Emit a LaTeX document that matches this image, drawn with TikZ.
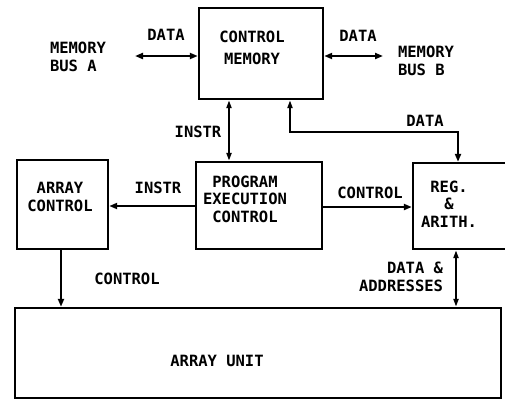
\documentclass[tikz,border=0pt]{standalone}
\usepackage{fontspec}
\setmonofont{DejaVu Sans Mono}
\usetikzlibrary{arrows.meta}
\begin{document}
\begin{tikzpicture}[x=1pt,y=-1pt,>={Triangle[length=8pt,width=6pt]},
        font=\ttfamily\bfseries\fontsize{15.5}{17.5}\selectfont, line width=2pt]
        \tikzset{box/.style={draw, line width=2.4pt, minimum width=#1, inner sep=0pt},
                 lbl/.style={align=center, inner sep=1pt},
                 oarr/.style={{Triangle[open,length=8pt,width=5pt]}-{Triangle[open,length=8pt,width=5pt]}}}
        \useasboundingbox (0,0) rectangle (505,400);
        % boxes
        \node[box=124pt, minimum height=91pt] (cm) at (261,53.5) {};
        \node[box=91pt, minimum height=89pt] (ac) at (62.5,204.5) {};
        \node[box=126pt, minimum height=87pt] (pec) at (259,205.5) {};
        \node[box=110pt, minimum height=86pt] (reg) at (468,206) {};
        \node[box=486pt, minimum height=90pt] (au) at (258,353) {};
        % box texts
        \node[lbl, align=center] (cmtxt) at (252,48) {CONTROL\\[5pt]MEMORY};
        \node[lbl] (actxt) at (60,197) {ARRAY\\CONTROL};
        \node[lbl] (pectxt) at (245,199) {PROGRAM\\EXECUTION\\CONTROL};
        \node[lbl] (regtxt) at (449,204) {REG.\\\&\\ARITH.};
        \node[lbl] (autxt) at (217,361) {ARRAY UNIT};
        % outer ends
        \node[lbl, align=left, anchor=west] (busa) at (48,57) {MEMORY\\BUS A};
        \node[lbl, align=left, anchor=west] (busb) at (396,61) {MEMORY\\BUS B};
        \coordinate (ea) at (135,56);
        \coordinate (eb) at (383,56);
        \coordinate (ip) at (229,0);
        \coordinate (dp) at (290,132);
        \coordinate (dq) at (458,132);
        \coordinate (ap) at (61,0);
        \coordinate (aq) at (456,0);
        % connectors
        \draw[<->] (ea) -- (ea -| cm.west);
        \draw[<->] (eb -| cm.east) -- (eb);
        \draw[oarr] (ip |- cm.south) -- (ip |- pec.north);
        \draw[{Triangle[open,length=8pt,width=5pt]}->] (dp |- cm.south) -- (dp) -- (dq) -- (dq |- reg.north);
        \draw[->] (pec.west |- 0,206) -- (ac.east |- 0,206);
        \draw[->] (pec.east |- 0,207) -- (reg.west |- 0,207);
        \draw[->] (ap |- ac.south) -- (ap |- au.north);
        \draw[oarr] (aq |- reg.south) -- (aq |- au.north);
        % labels
        \node[lbl] (ldataa) at (166,35) {DATA};
        \node[lbl] (ldatab) at (358,36) {DATA};
        \node[lbl] (linstr) at (198,132) {INSTR};
        \node[lbl] (ldata) at (425,121) {DATA};
        \node[lbl] (linstrb) at (158,188) {INSTR};
        \node[lbl] (lctrl) at (370,193) {CONTROL};
        \node[lbl] (lctrlb) at (127,279) {CONTROL};
        \node[lbl, align=right] (lda) at (401,277) {DATA \&\\ADDRESSES};
\end{tikzpicture}
\end{document}
